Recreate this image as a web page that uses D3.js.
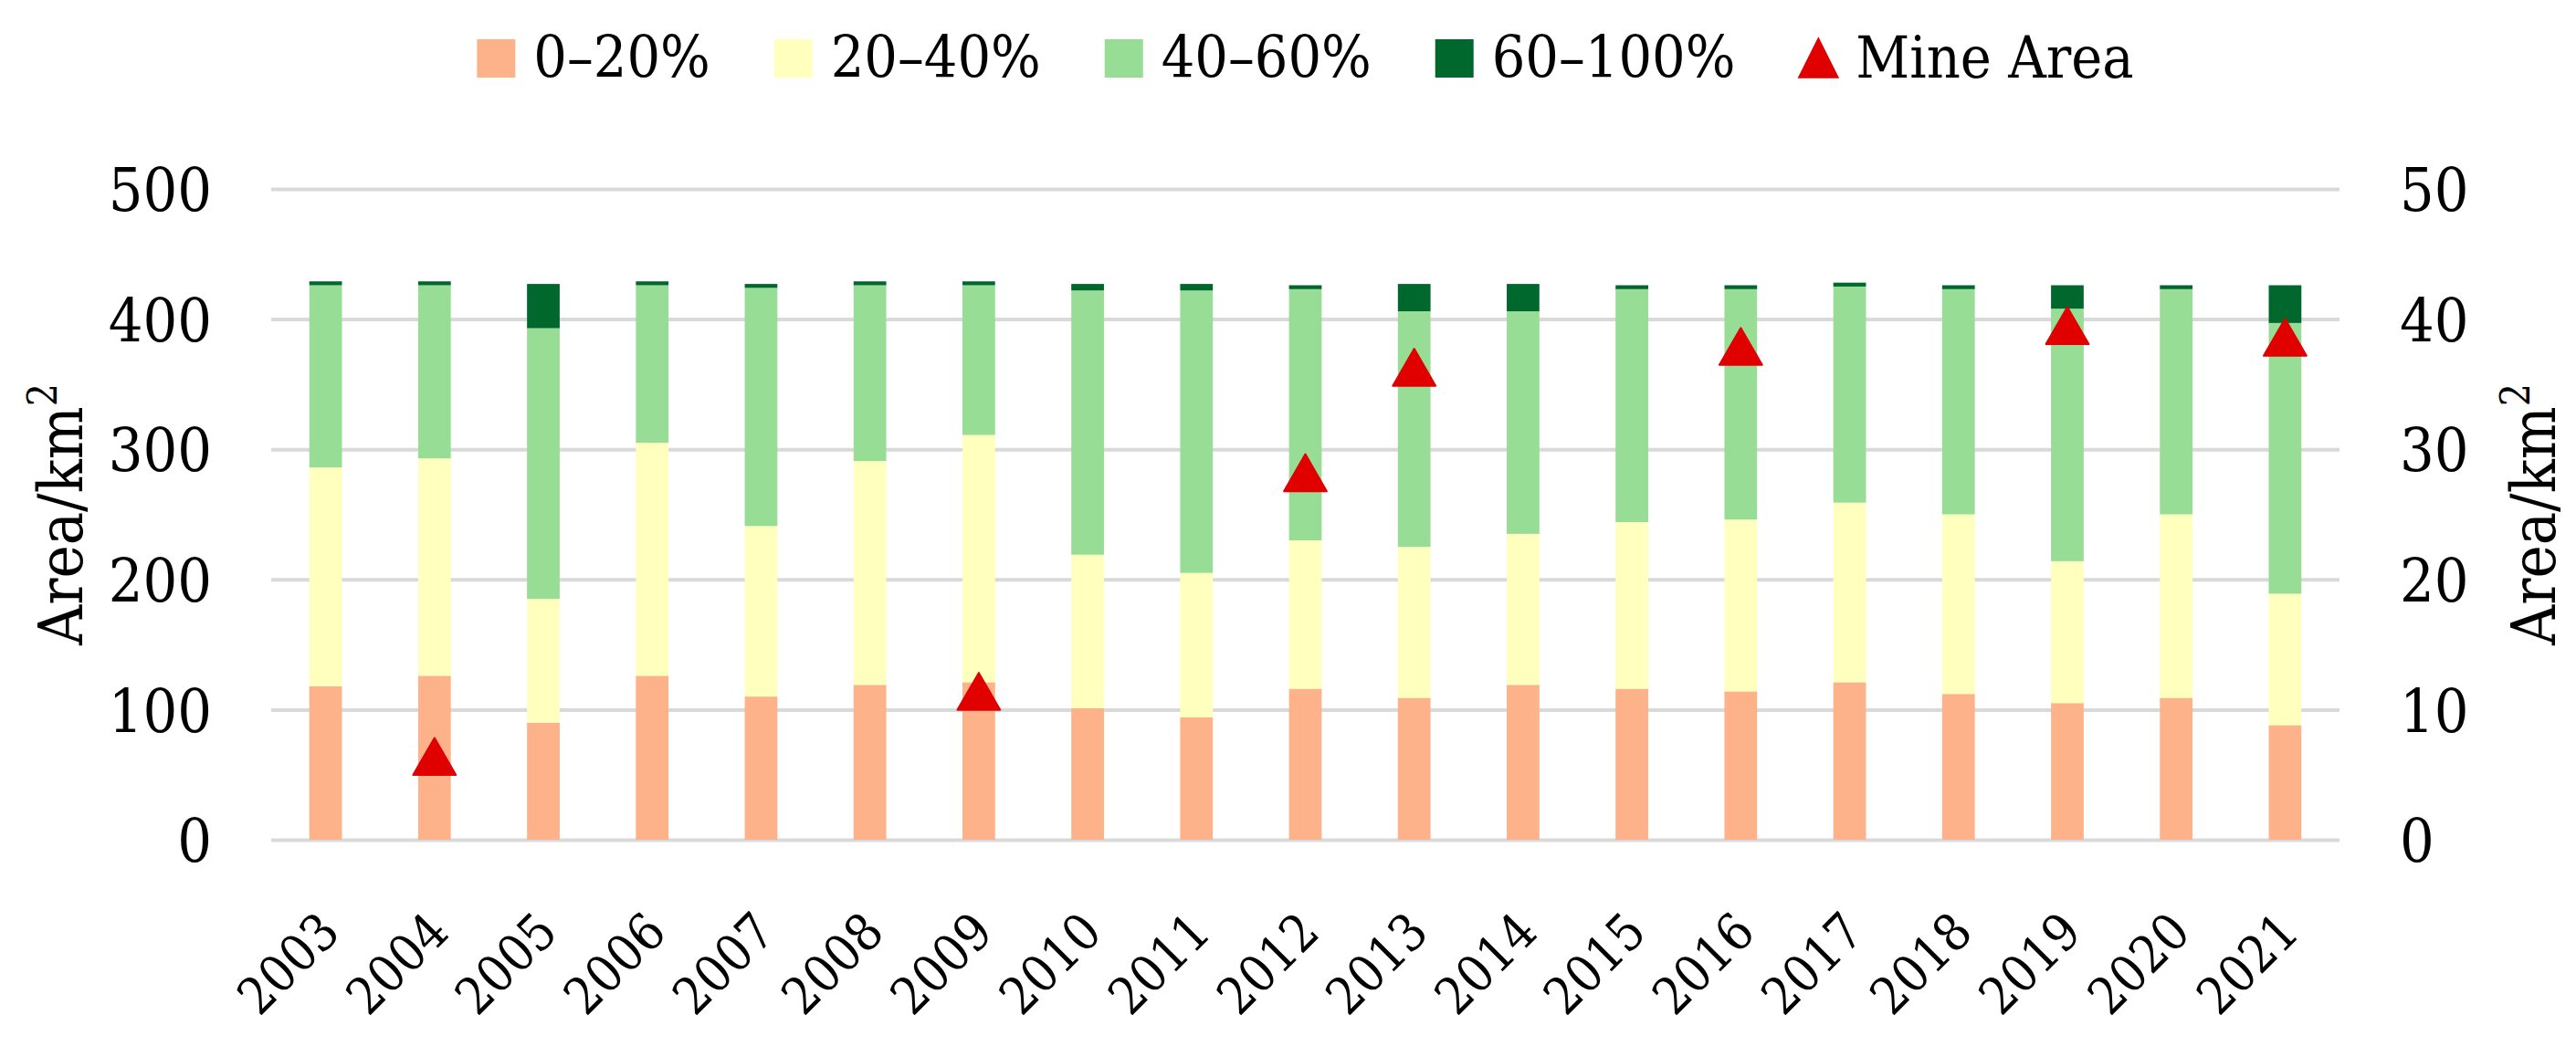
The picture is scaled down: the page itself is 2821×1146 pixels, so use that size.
<!DOCTYPE html>
<html><head><meta charset="utf-8">
<script src="https://cdn.jsdelivr.net/npm/d3@7"></script>
<style>html,body{margin:0;padding:0;background:#fff;} svg{display:block;}</style>
</head><body>
<svg id="chart" width="2821" height="1146"></svg>
<script>
const years = ["2003","2004","2005","2006","2007","2008","2009","2010","2011","2012","2013","2014","2015","2016","2017","2018","2019","2020","2021"];
const cover0_20   = [118,126, 90,126,110,119,121,101, 94,116,109,119,116,114,121,112,105,109, 88];
const cover20_40  = [168,167, 95,179,131,172,190,118,111,114,116,116,128,132,138,138,109,141,101];
const cover40_60  = [140,133,208,121,183,135,115,203,217,193,181,171,179,177,166,173,194,173,208];
const cover60_100 = [  3,  3, 34,  3,  3,  3,  3,  5,  5,  3, 21, 21,  3,  3,  3,  3, 18,  3, 29];
const mineArea = [null,6.4,null,null,null,null,11.4,null,null,28.2,36.3,null,null,37.9,null,null,39.5,null,38.6];
const leftTicks = [0,100,200,300,400,500];
const rightTicks = [0,10,20,30,40,50];
const seriesKeys = ["0–20%","20–40%","40–60%","60–100%"];
const seriesColors = ["#FDB28A","#FFFFBE","#98DD96","#00682D"];
const mineName = "Mine Area";
const mineColor = "#E00000";
const axisTitleMain = "Area/km";
const axisTitleSup = "2";

const FONT = "'DejaVu Serif Condensed', 'DejaVu Serif', serif";
const svg = d3.select("#chart");
const plot = {left: 297, right: 2562, top: 207, bottom: 920};

const rows = years.map((y, i) => ({
  year: y,
  [seriesKeys[0]]: cover0_20[i],
  [seriesKeys[1]]: cover20_40[i],
  [seriesKeys[2]]: cover40_60[i],
  [seriesKeys[3]]: cover60_100[i]
}));
const stacked = d3.stack().keys(seriesKeys)(rows);

const x = d3.scaleBand().domain(years).range([plot.left, plot.right]).paddingInner(0.70).paddingOuter(0.35);
const y = d3.scaleLinear().domain([0, 500]).range([plot.bottom, plot.top]);
const y2 = d3.scaleLinear().domain([0, 50]).range([plot.bottom, plot.top]);

// gridlines
const grid = svg.append("g").attr("transform", `translate(${plot.left},0)`)
  .call(d3.axisLeft(y).tickValues(leftTicks).tickSize(-(plot.right - plot.left)).tickFormat(""));
grid.select(".domain").remove();
grid.selectAll("line").attr("stroke", "#D9D9D9").attr("stroke-width", 4);

// bars
const color = d3.scaleOrdinal().domain(seriesKeys).range(seriesColors);
svg.append("g").selectAll("g").data(stacked).join("g")
  .attr("fill", d => color(d.key))
  .selectAll("rect").data(d => d).join("rect")
  .attr("x", d => x(d.data.year))
  .attr("width", x.bandwidth())
  .attr("y", d => y(d[1]))
  .attr("height", d => y(d[0]) - y(d[1]));

// mine area triangles
const triSize = 950;
const triR = Math.sqrt(triSize / (3 * Math.sqrt(3)));
const triOffset = triR / 2;
const tri = d3.symbol().type(d3.symbolTriangle).size(triSize);
svg.append("g").selectAll("path")
  .data(years.map((yr, i) => ({year: yr, v: mineArea[i]})).filter(d => d.v != null))
  .join("path")
  .attr("d", tri)
  .attr("transform", d => `translate(${x(d.year) + x.bandwidth()/2},${y2(d.v) + triOffset})`)
  .attr("fill", mineColor).attr("stroke", mineColor).attr("stroke-width", 2).attr("stroke-linejoin", "round");

// left axis labels
const la = svg.append("g").attr("transform", `translate(${plot.left - 65},0)`)
  .call(d3.axisLeft(y).tickValues(leftTicks).tickSize(0).tickPadding(0));
la.select(".domain").remove();
la.selectAll("text").attr("font-family", FONT).attr("font-size", 66).attr("fill", "#000").attr("dy", "0.36em");

// right axis labels
const ra = svg.append("g").attr("transform", `translate(${plot.right + 66},0)`)
  .call(d3.axisRight(y2).tickValues(rightTicks).tickSize(0).tickPadding(0));
ra.select(".domain").remove();
ra.selectAll("text").attr("font-family", FONT).attr("font-size", 66).attr("fill", "#000").attr("dy", "0.36em");

// x axis labels
const xa = svg.append("g").attr("transform", `translate(0,${plot.bottom})`)
  .call(d3.axisBottom(x).tickSize(0).tickPadding(0));
xa.select(".domain").remove();
xa.selectAll("text")
  .attr("font-family", FONT).attr("font-size", 56).attr("fill", "#000")
  .attr("text-anchor", "end")
  .attr("dy", 0).attr("y", 0)
  .attr("transform", "translate(18,104) rotate(-45)");

// axis titles
function axisTitle(cx, cy) {
  const t = svg.append("text")
    .attr("transform", `translate(${cx},${cy}) rotate(-90)`)
    .attr("text-anchor", "middle")
    .attr("font-family", FONT).attr("font-size", 68).attr("fill", "#000");
  t.append("tspan").text(axisTitleMain);
  t.append("tspan").attr("font-size", 44).attr("dy", -28).text(axisTitleSup);
}
axisTitle(90, (plot.top + plot.bottom) / 2);
axisTitle(2798, (plot.top + plot.bottom) / 2);

// legend
const legend = svg.append("g");
const items = seriesKeys.map((k, i) => ({label: k, color: seriesColors[i], type: "rect"}))
  .concat([{label: mineName, color: mineColor, type: "tri"}]);
const sw = 42, gapText = 20, gapItem = 70, legY = 62;
const gItems = legend.selectAll("g").data(items).join("g");
gItems.each(function(d) {
  const g = d3.select(this);
  if (d.type === "rect") {
    g.append("rect").attr("x", 0).attr("y", legY - sw/2 + 2).attr("width", sw).attr("height", sw).attr("fill", d.color);
  } else {
    g.append("path").attr("d", d3.symbol().type(d3.symbolTriangle).size(900))
      .attr("transform", `translate(${sw/2},${legY + 2 + Math.sqrt(900/(3*Math.sqrt(3)))/2}) scale(1,1.15)`)
      .attr("fill", d.color);
  }
  const t = g.append("text").attr("x", sw + gapText).attr("y", legY).attr("dy", "0.36em")
    .attr("font-family", FONT).attr("font-size", 64).attr("fill", "#000").text(d.label);
  d.w = sw + gapText + t.node().getComputedTextLength();
});
const total = d3.sum(items, d => d.w) + gapItem * (items.length - 1);
let start = (plot.left + plot.right) / 2 - total / 2;
gItems.attr("transform", d => { const tr = `translate(${start},0)`; start += d.w + gapItem; return tr; });
</script>
</body></html>
